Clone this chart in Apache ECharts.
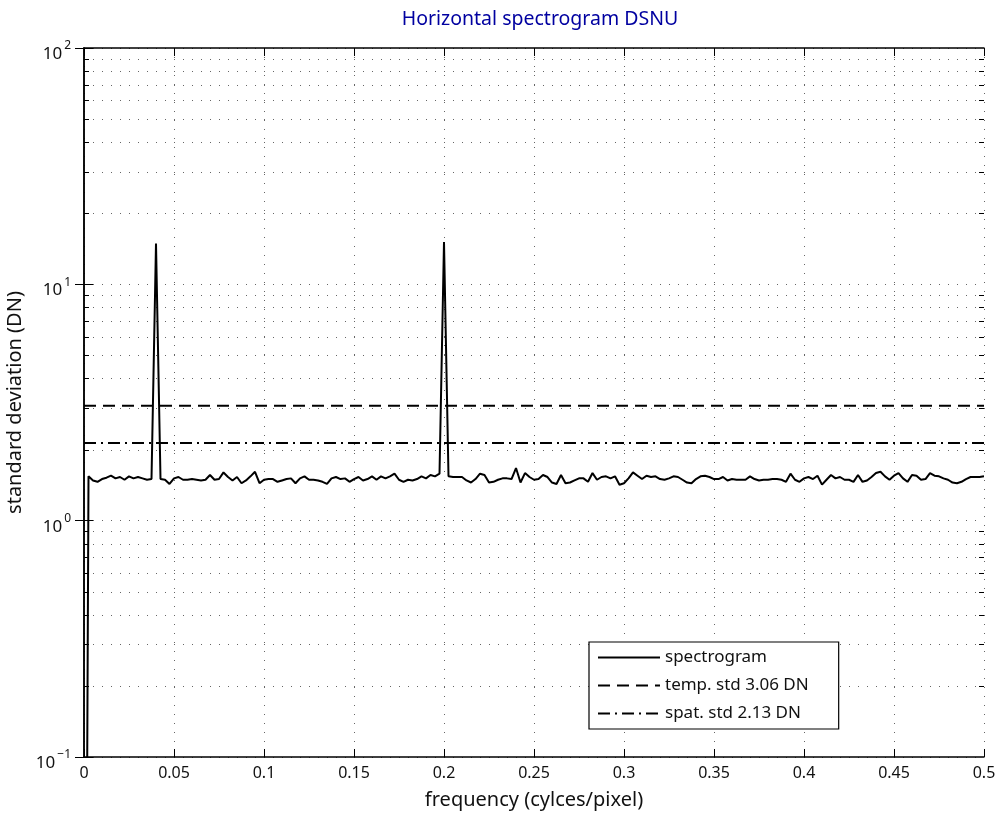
<!DOCTYPE html>
<html>
<head>
<meta charset="utf-8">
<script src="https://cdn.jsdelivr.net/npm/echarts@6/dist/echarts.min.js"></script>
<style>html,body{margin:0;padding:0;background:#fff}#c{width:995px;height:817px}</style>
</head>
<body>
<div id="c"></div>
<script>
// ---- data ----
const freqStep = 0.0025; // cycles/pixel between spectrum samples
const spectrum = [
  0.0001,
  1.54,1.48,1.46,1.50,1.52,1.55,1.51,1.53,1.49,1.54,1.51,1.53,1.51,1.49,1.50,
  14.9,
  1.50,1.49,1.43,1.51,1.53,1.49,1.49,1.50,1.49,1.48,1.49,1.56,1.49,1.50,1.60,1.53,1.48,1.53,1.44,1.48,1.54,1.61,1.44,1.49,1.50,1.50,1.46,1.48,1.50,1.51,1.44,1.51,1.54,1.49,
  1.49,1.48,1.46,1.43,1.51,1.53,1.50,1.51,1.46,1.50,1.53,1.48,1.50,1.54,1.49,1.54,1.51,1.54,1.58,1.49,1.46,1.49,1.48,1.50,1.54,1.51,1.56,1.54,1.58,
  15.1,
  1.54,1.53,1.53,1.53,1.48,1.45,1.50,1.58,1.56,1.45,1.46,1.49,1.51,1.51,1.50,1.67,1.45,1.59,1.53,1.49,
  1.50,1.56,1.53,1.45,1.43,1.56,1.44,1.45,1.48,1.51,1.51,1.46,1.59,1.49,1.53,1.54,1.51,1.54,1.42,1.44,
  1.51,1.60,1.55,1.50,1.55,1.53,1.54,1.50,1.49,1.51,1.54,1.53,1.49,1.45,1.44,1.50,1.54,1.55,1.53,1.50,
  1.50,1.53,1.48,1.50,1.49,1.49,1.49,1.54,1.50,1.48,
  1.49,1.49,1.50,1.50,1.49,1.46,1.58,1.49,1.46,1.51,1.53,1.50,1.55,1.42,1.49,1.56,1.51,1.53,1.49,1.49,
  1.46,1.56,1.46,1.48,1.53,1.59,1.61,1.54,1.49,1.55,1.59,1.51,1.46,1.56,1.55,1.49,1.50,1.59,1.55,1.54,
  1.51,1.49,1.45,1.44,1.46,1.50,1.53,1.53,1.53,1.54
];
const tempStd = [3.06];
const spatStd = [2.13];
const freqRange = [0, 0.5];
const xTickStep = 0.05;
const yRange = [0.1, 100];
const minorGridValues = [0.2,0.3,0.4,0.5,0.6,0.7,0.8,0.9,2,3,4,5,6,7,8,9,20,30,40,50,60,70,80,90];
const titleText = 'Horizontal spectrogram DSNU';
const xName = 'frequency (cylces/pixel)';
const yName = 'standard deviation (DN)';
const legendNames = ['spectrogram', 'temp. std ' + tempStd[0].toFixed(2) + ' DN', 'spat. std ' + spatStd[0].toFixed(2) + ' DN'];

// ---- build ----
const specData = spectrum.map((v, i) => [+(i * freqStep).toFixed(4), v]);
const tempData = freqRange.map(f => [f, tempStd[0]]);
const spatData = freqRange.map(f => [f, spatStd[0]]);

const FONT = 'Noto Sans';
const dotted = { color: '#666', width: 1, type: [1, 8] };

const chart = echarts.init(document.getElementById('c'), null, { renderer: 'canvas' });
chart.setOption({
  backgroundColor: '#fff',
  animation: false,
  textStyle: { fontFamily: FONT },
  title: {
    text: titleText, left: 535, top: 4, textAlign: 'center',
    textStyle: { color: '#0000a0', fontSize: 19.5, fontWeight: 'normal', fontFamily: FONT }
  },
  grid: { left: 84, right: 11, top: 48, bottom: 60, containLabel: false, outerBoundsMode: 'none' },
  legend: {
    orient: 'vertical', left: 589, top: 642,
    backgroundColor: '#fff', borderColor: '#000', borderWidth: 1.2,
    padding: [7, 30, 7, 8],
    itemWidth: 62, itemHeight: 17, itemGap: 11,
    itemStyle: { opacity: 0, borderWidth: 0 },
    textStyle: { color: '#111', fontSize: 17, fontFamily: FONT },
    data: legendNames
  },
  xAxis: [{
    type: 'value', min: freqRange[0], max: freqRange[1], interval: xTickStep,
    position: 'bottom',
    name: xName, nameLocation: 'middle', nameGap: 33,
    nameTextStyle: { fontSize: 20, color: '#111', fontFamily: FONT },
    axisLine: { show: true, lineStyle: { color: '#000', width: 1.5 } },
    axisTick: { show: true, inside: true, length: 8, lineStyle: { color: '#000' } },
    axisLabel: { color: '#111', fontSize: 16, margin: 8, fontFamily: FONT,
      formatter: v => (Math.round(v * 100) / 100).toString() },
    splitLine: { show: true, lineStyle: dotted }
  }, {
    type: 'value', min: freqRange[0], max: freqRange[1], interval: xTickStep,
    position: 'top',
    axisLine: { show: true, onZero: false, lineStyle: { color: '#000', width: 1.5 } },
    axisTick: { show: true, inside: true, length: 8, lineStyle: { color: '#000' } },
    axisLabel: { show: false }, splitLine: { show: false }
  }],
  yAxis: [{
    type: 'log', logBase: 10, min: yRange[0], max: yRange[1],
    position: 'left',
    name: yName, nameLocation: 'middle', nameGap: 56, nameRotate: 90,
    nameTextStyle: { fontSize: 20, color: '#111', fontFamily: FONT },
    axisLine: { show: true, lineStyle: { color: '#000', width: 1.5 } },
    axisTick: { show: true, inside: true, length: 9, lineStyle: { color: '#000' } },
    axisLabel: {
      margin: 13, color: '#111', fontFamily: FONT,
      formatter: v => {
        const e = Math.round(Math.log10(v));
        return '{b|10}{s|' + (e < 0 ? '\u2212' + (-e) : e) + '}';
      },
      rich: {
        b: { fontSize: 17, color: '#111', fontFamily: FONT, padding: [12, 0, 0, 0] },
        s: { fontSize: 12, color: '#111', fontFamily: FONT, padding: [0, 0, 4, 2] }
      }
    },
    splitLine: { show: true, lineStyle: dotted }
  }, {
    type: 'log', logBase: 10, min: yRange[0], max: yRange[1],
    position: 'right',
    axisLine: { show: true, lineStyle: { color: '#000', width: 1.5 } },
    axisTick: { show: true, inside: true, length: 9, lineStyle: { color: '#000' } },
    axisLabel: { show: false }, splitLine: { show: false }
  }],
  series: [{
    type: 'custom', name: 'minorGrid', silent: true, z: 1,
    coordinateSystem: 'cartesian2d', xAxisIndex: 0, yAxisIndex: 0,
    encode: { x: 0, y: 1 },
    data: minorGridValues.map(v => [0, v]),
    renderItem: (params, api) => {
      const cs = params.coordSys;
      const y = Math.round(api.coord([0, api.value(1)])[1]) + 0.5;
      return {
        type: 'group', children: [
          { type: 'line', shape: { x1: cs.x, y1: y, x2: cs.x + cs.width, y2: y }, style: { stroke: '#666', lineWidth: 1, lineDash: [1, 8] } },
          { type: 'line', shape: { x1: cs.x, y1: y, x2: cs.x + 5, y2: y }, style: { stroke: '#000', lineWidth: 1 } },
          { type: 'line', shape: { x1: cs.x + cs.width - 5, y1: y, x2: cs.x + cs.width, y2: y }, style: { stroke: '#000', lineWidth: 1 } }
        ]
      };
    }
  }, {
    type: 'line', name: legendNames[0], data: specData, symbol: 'none', clip: true, z: 5,
    lineStyle: { color: '#000', width: 2 }, itemStyle: { color: '#000' }
  }, {
    type: 'line', name: legendNames[1], data: tempData, symbol: 'none', z: 4,
    lineStyle: { color: '#000', width: 2, type: [12, 7] }, itemStyle: { color: '#000' }
  }, {
    type: 'line', name: legendNames[2], data: spatData, symbol: 'none', z: 4,
    lineStyle: { color: '#000', width: 2, type: [12, 5, 2, 5] }, itemStyle: { color: '#000' }
  }]
});
</script>
</body>
</html>
